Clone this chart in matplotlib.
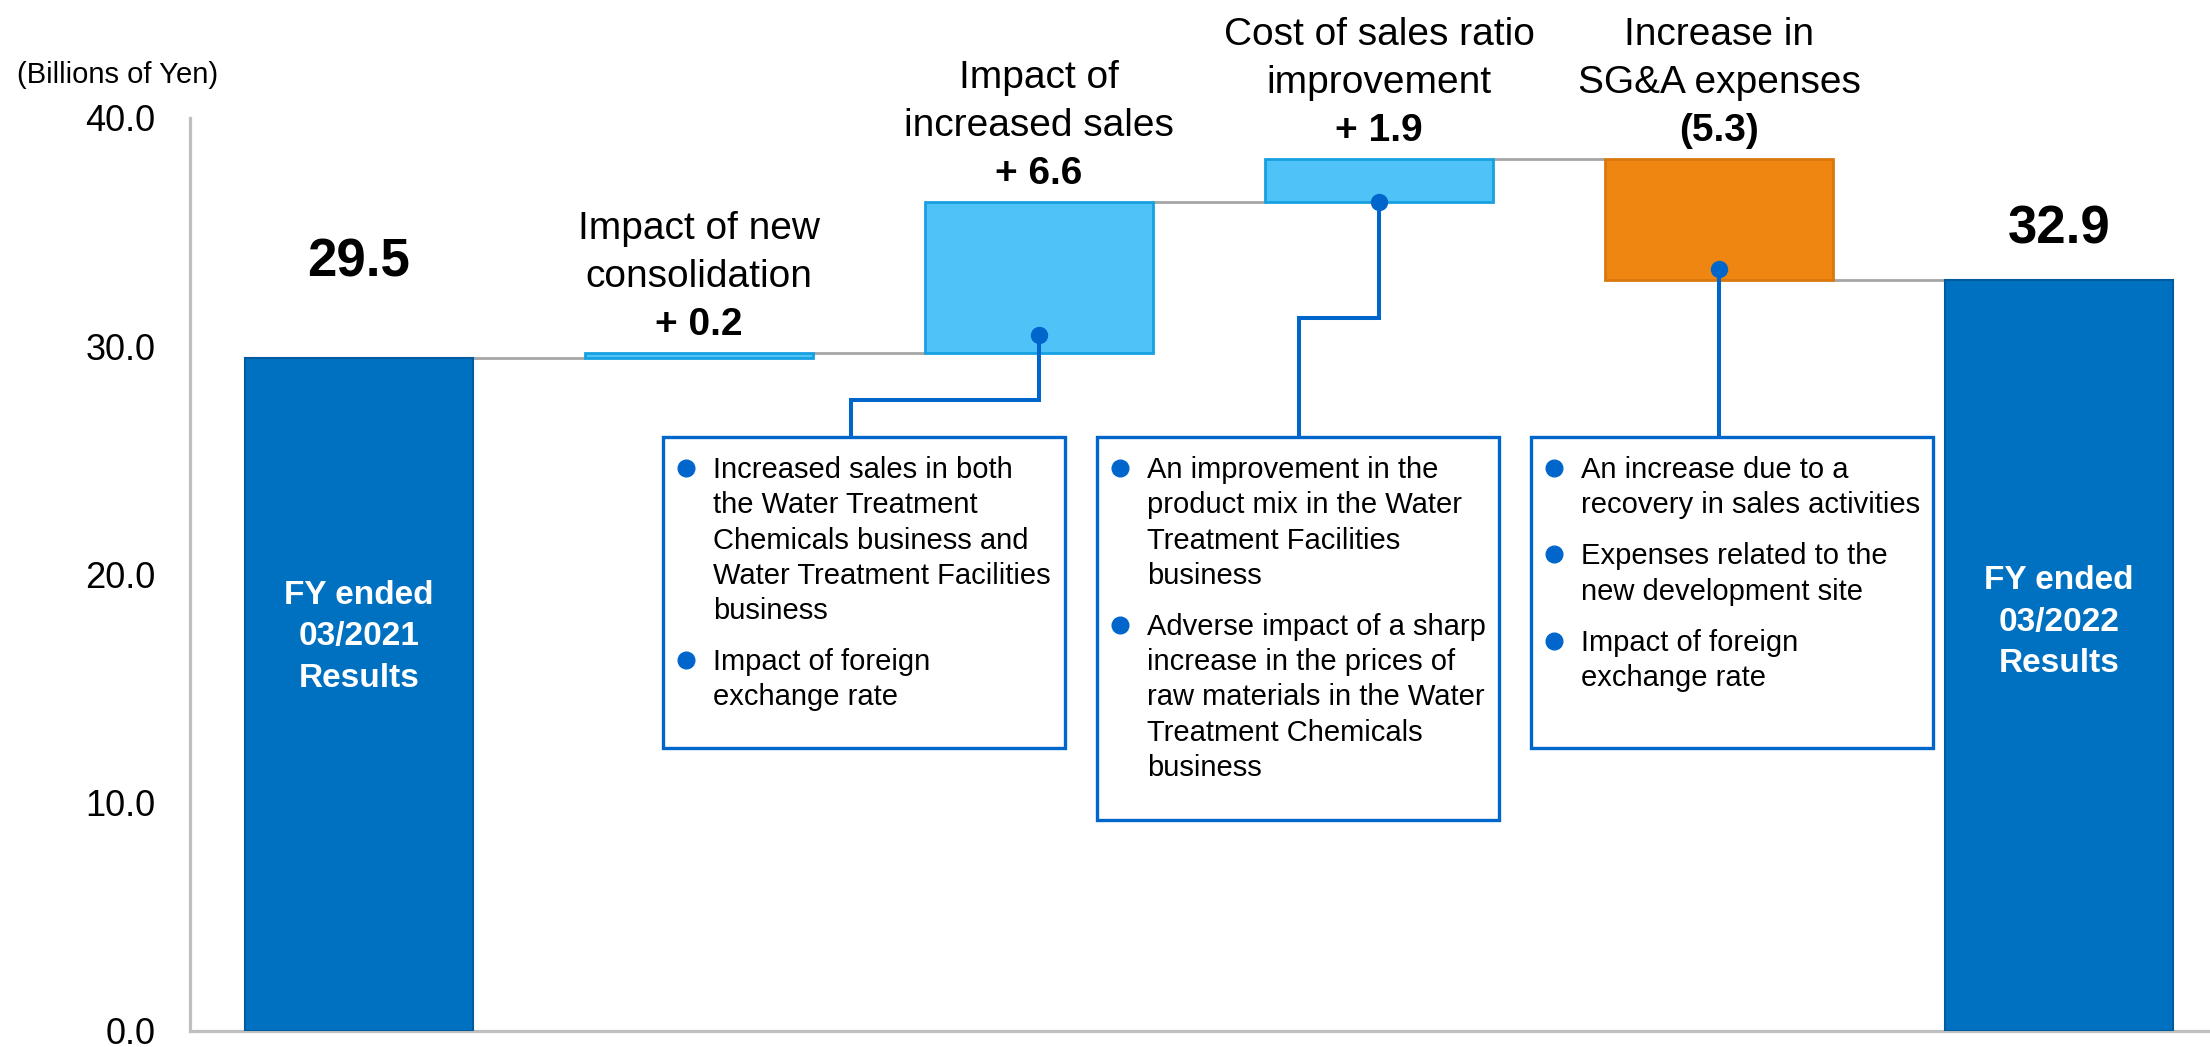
import matplotlib
matplotlib.use('Agg')
import matplotlib.pyplot as plt
from matplotlib.patches import Rectangle
import numpy as np

plt.rcParams['font.family'] = ['Liberation Sans', 'DejaVu Sans']

# ---- data ----
start_value = 29.5
end_value = 32.9
changes = [0.2, 6.6, 1.9, -5.3]
change_labels = ['+ 0.2', '+ 6.6', '+ 1.9', '(5.3)']
categories = [['Impact of new', 'consolidation'],
              ['Impact of', 'increased sales'],
              ['Cost of sales ratio', 'improvement'],
              ['Increase in', 'SG&A expenses']]
total_labels = [['FY ended', '03/2021', 'Results'],
                ['FY ended', '03/2022', 'Results']]
yticks = [0, 10, 20, 30, 40]

notes = [
    [['Increased sales in both', 'the Water Treatment', 'Chemicals business and',
      'Water Treatment Facilities', 'business'],
     ['Impact of foreign', 'exchange rate']],
    [['An improvement in the', 'product mix in the Water', 'Treatment Facilities', 'business'],
     ['Adverse impact of a sharp', 'increase in the prices of', 'raw materials in the Water',
      'Treatment Chemicals', 'business']],
    [['An increase due to a', 'recovery in sales activities'],
     ['Expenses related to the', 'new development site'],
     ['Impact of foreign', 'exchange rate']],
]
# where each callout line touches its bar (bar index, value)
note_anchor_bar = [2, 3, 4]
note_anchor_val = [30.5, 36.3, 33.4]

# ---- colours ----
dark_blue = '#0070C0'
light_blue = '#4FC3F7'
light_edge = '#16A0E2'
orange = '#EE8611'
orange_edge = '#D9780F'
line_blue = '#0066CC'
gray = '#A6A6A6'
axis_gray = '#BFBFBF'

W, H = 2210, 1047
fig = plt.figure(figsize=(W / 100, H / 100), dpi=100)
ax = fig.add_axes([190 / W, 16 / H, 2020 / W, 913 / H])
ax.set_xlim(-0.497, 5.444)
ax.set_ylim(0, 40)


def from_px(x, y):
    return ax.transData.inverted().transform((x, H - y))


def to_px(x, y):
    dx, dy = ax.transData.transform((x, y))
    return dx, H - dy


bw = 0.67
levels = np.concatenate([[start_value], start_value + np.cumsum(changes)])
bottoms = np.minimum(levels[:-1], levels[1:])
heights = np.abs(changes)
xs = np.arange(1, len(changes) + 1)
colors = [light_blue if c > 0 else orange for c in changes]
edges = [light_edge if c > 0 else orange_edge for c in changes]

ax.bar([0, 5], [start_value, end_value], width=bw, color=dark_blue,
       edgecolor='#005A9E', linewidth=1.5, zorder=3)
ax.bar(xs, heights, bottom=bottoms, width=bw, color=colors,
       edgecolor=edges, linewidth=2, zorder=3)

# gray step connectors
for i in range(5):
    ax.plot([i + bw / 2, i + 1 - bw / 2], [levels[i], levels[i]],
            color=gray, lw=2, zorder=2, solid_capstyle='butt')

# axes styling
for s in ['top', 'right']:
    ax.spines[s].set_visible(False)
for s in ['left', 'bottom']:
    ax.spines[s].set_color(axis_gray)
    ax.spines[s].set_linewidth(2.3)
ax.set_xticks([])
ax.set_yticks(yticks)
ax.set_yticklabels([f'{v:.1f}' for v in yticks], fontsize=26)
ax.tick_params(axis='y', length=0, pad=25)
fig.text(17 / W, 1 - 83 / H, '(Billions of Yen)', fontsize=21, va='baseline')

# labels above change bars
tops = np.maximum(levels[:-1], levels[1:])
for x, top, lab, cat in zip(xs, tops, change_labels, categories):
    cx, ty = to_px(x, top)
    base = ty - 18
    ax.text(x, from_px(cx, base)[1], lab, ha='center', va='baseline',
            fontsize=28, fontweight='bold')
    for k, line in enumerate(reversed(cat)):
        ax.text(x, from_px(cx, base - 48 * (k + 1))[1], line, ha='center',
                va='baseline', fontsize=28)

# totals
total_offsets = [81, 37]
inner_first = [604, 589]
for x, v, off, first, lines in zip([0, 5], [start_value, end_value],
                                    total_offsets, inner_first, total_labels):
    cx, ty = to_px(x, v)
    ax.text(x, from_px(cx, ty - off)[1], f'{v:.1f}', ha='center',
            va='baseline', fontsize=38, fontweight='bold')
    for k, line in enumerate(lines):
        ax.text(x, from_px(cx, first + 41.5 * k)[1], line, ha='center',
                va='baseline', fontsize=24, fontweight='bold', color='white',
                zorder=5)

# callout boxes
box_left = [663, 1097, 1531]
box_bottom = [748, 820, 748]
box_top = 437
box_w = 402
elbow_y = [400, 318, None]
elbow_x = [851, 1299, None]

for b in range(3):
    x0, y0 = from_px(box_left[b], box_bottom[b])
    x1, y1 = from_px(box_left[b] + box_w, box_top)
    ax.add_patch(Rectangle((x0, y0), x1 - x0, y1 - y0, facecolor='white',
                           edgecolor=line_blue, lw=2.4, zorder=6, clip_on=False))
    base = box_top + 41
    for para in notes[b]:
        bx, by = from_px(box_left[b] + 23, base - 10)
        ax.plot(bx, by, 'o', ms=12, color=line_blue, zorder=7, clip_on=False)
        for line in para:
            tx, ty = from_px(box_left[b] + 50, base)
            ax.text(tx, ty, line, fontsize=21, va='baseline', ha='left', zorder=7)
            base += 35.3
        base += 51 - 35.3

    # callout line from bar to box
    ax_x, ax_y = note_anchor_bar[b], note_anchor_val[b]
    px0, py0 = to_px(ax_x, ax_y)
    if elbow_y[b] is None:
        path = [(px0, py0), (px0, box_top)]
    else:
        path = [(px0, py0), (px0, elbow_y[b]), (elbow_x[b], elbow_y[b]),
                (elbow_x[b], box_top)]
    pts = np.array([from_px(px, py) for px, py in path])
    ax.plot(pts[:, 0], pts[:, 1], color=line_blue, lw=2.9, zorder=4,
            clip_on=False, solid_joinstyle='miter')
    ax.plot(ax_x, ax_y, 'o', ms=11.5, color=line_blue, zorder=5, clip_on=False)

fig.savefig('out.png', dpi=100)
